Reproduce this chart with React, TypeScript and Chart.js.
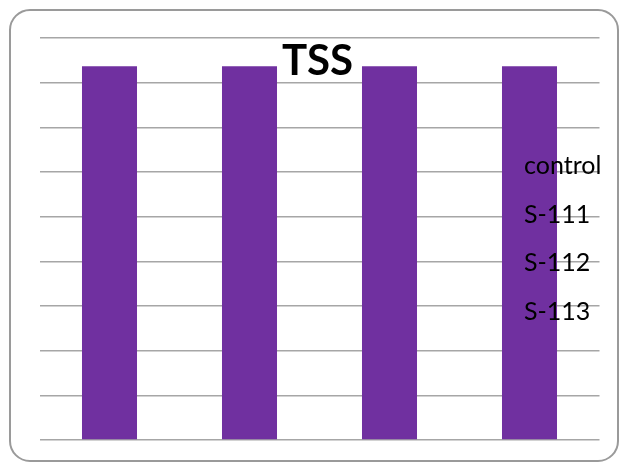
import React, { useEffect, useRef } from "react";
import { Chart, registerables } from "chart.js";

Chart.register(...registerables);

const categories = ["control", "S-111", "S-112", "S-113"];
const values = [8.37, 8.37, 8.37, 8.37];
const legendLabels = ["control", "S-111", "S-112", "S-113"];
const titleText = "TSS";
const yMin = 0;
const yMax = 9;
const yStep = 1;

const framePlugin = {
  id: "frame",
  beforeDraw(chart: any) {
    const ctx = chart.ctx;
    ctx.save();
    ctx.fillStyle = "#ffffff";
    ctx.fillRect(0, 0, chart.width, chart.height);
    ctx.strokeStyle = "#9a9a9a";
    ctx.lineWidth = 2;
    ctx.beginPath();
    ctx.roundRect(10, 10, 608, 451, 20);
    ctx.stroke();
    ctx.restore();
  },
  afterDraw(chart: any) {
    const ctx = chart.ctx;
    const area = chart.chartArea;
    ctx.save();
    ctx.fillStyle = "#000000";
    ctx.textAlign = "center";
    ctx.textBaseline = "alphabetic";
    ctx.font = "bold 42px Lato";
    ctx.fillText(titleText, (area.left + area.right) / 2 - 2, 75);
    ctx.textAlign = "left";
    ctx.font = "25px Lato";
    const baselines = [174, 223, 271, 320];
    legendLabels.forEach((t, i) => {
      ctx.fillText(t, 524, baselines[i]);
    });
    ctx.restore();
  },
};

export default function App() {
  const ref = useRef<HTMLCanvasElement | null>(null);
  useEffect(() => {
    if (!ref.current) return;
    const chart = new Chart(ref.current, {
      type: "bar",
      data: {
        labels: categories,
        datasets: [
          {
            data: values,
            backgroundColor: "#7030A0",
            borderWidth: 0,
            barPercentage: 0.393,
            categoryPercentage: 1,
          },
        ],
      },
      options: {
        responsive: false,
        animation: false,
        layout: { padding: { left: 39.5, right: 21.5, top: 38, bottom: 24 } },
        plugins: {
          legend: { display: false },
          title: { display: false },
          tooltip: { enabled: false },
        },
        scales: {
          x: { display: false },
          y: {
            min: yMin,
            max: yMax,
            ticks: { display: false, stepSize: yStep },
            border: { display: false },
            grid: { color: "#a6a6a6", lineWidth: 1.5, drawTicks: false },
          },
        },
      },
      plugins: [framePlugin],
    });
    return () => chart.destroy();
  }, []);
  return (
    <div style={{ position: "absolute", left: 0, top: 0, width: 621, height: 464 }}>
      <canvas ref={ref} width={621} height={464} />
    </div>
  );
}
